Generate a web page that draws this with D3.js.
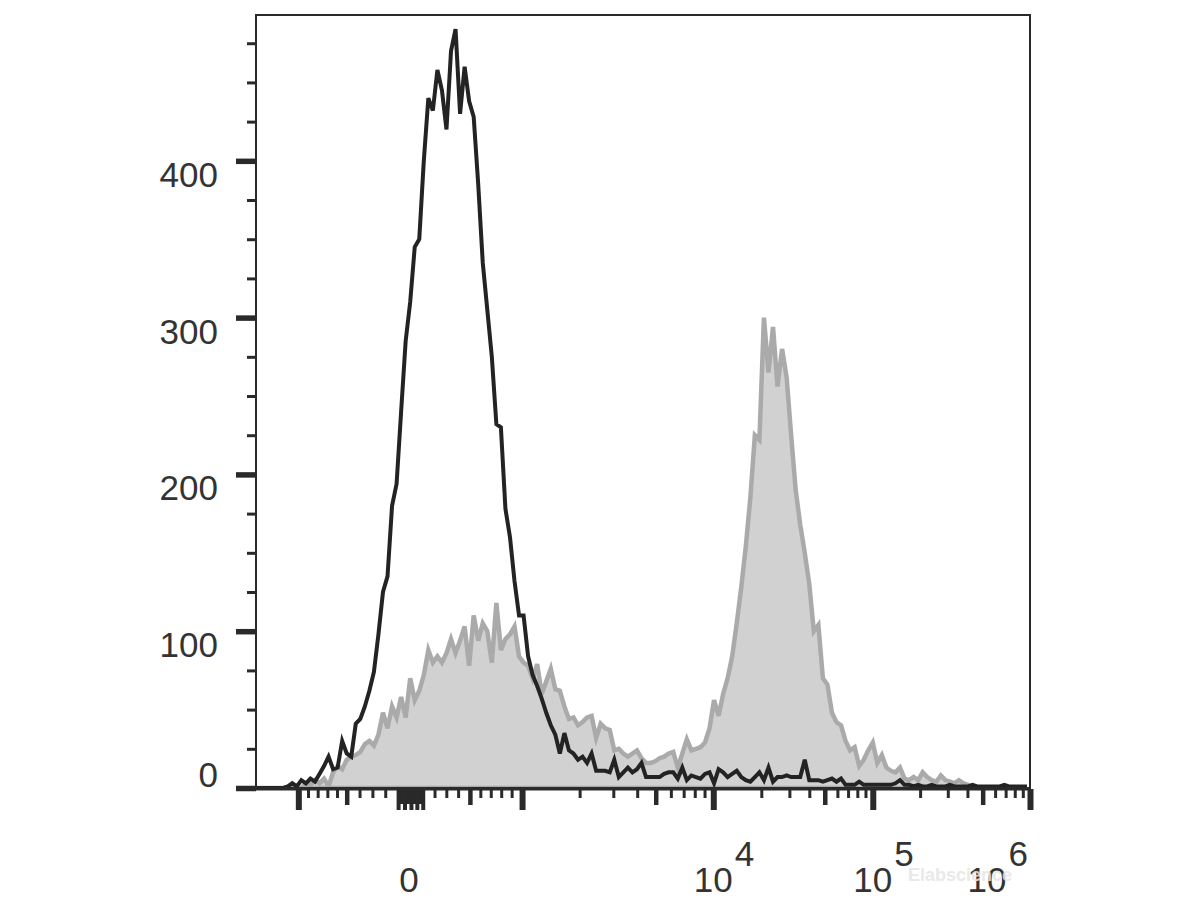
<!DOCTYPE html>
<html><head><meta charset="utf-8">
<script src="https://cdn.jsdelivr.net/npm/d3@7"></script>
<style>html,body{margin:0;background:#fff}</style>
</head><body>
<svg id="chart" width="1200" height="900"></svg>
<script>
// ---- data ----
const binWidth = 6; // channels per histogram bin (channel range 0..1024)
const blackCounts = [
0,0,0,0,0,0,0,1,3,1, 5,3,6,4,9,14,20,12,13,30,
22,20,41,44,52,62,74,98,125,135, 180,194,240,285,310,345,350,400,440,432,
458,445,420,470,484,430,460,438,428,385, 335,305,275,232,230,178,160,132,110,110,
84,72,65,57,48,40,34,22,35,24, 22,18,20,16,22,11,11,11,10,18,
7,10,13,10,12,16,7,7,7,7, 9,10,10,6,13,5,8,7,6,9,
10,3,12,10,7,9,11,7,5,4, 7,10,5,13,4,7,7,8,7,7,
7,18,5,5,5,4,5,6,4,6, 2,2,2,4,2,2,2,2,2,2,
2,3,5,2,2,1,2,1,1,2, 1,1,1,2,1,1,1,1,2,1,
1,1,1,1,1,2,1,1,1,1, 1
];
const grayCounts = [
0,0,0,0,0,0,0,0,0,0, 0,3,2,5,3,6,1,10,14,12,
18,20,21,23,28,30,27,34,48,38, 52,45,58,45,70,56,62,72,88,80,
84,80,86,95,86,94,103,78,110,94, 105,100,80,118,88,95,98,103,84,80,
78,70,79,60,68,76,63,62,52,44, 45,40,42,45,46,32,41,38,37,24,
25,22,20,22,24,19,16,16,17,19, 20,22,23,13,22,31,24,25,26,29,
38,56,46,60,70,84,105,128,154,185, 225,222,300,265,294,256,280,262,225,190,
168,150,130,100,104,70,66,48,42,40, 30,24,26,14,18,24,29,16,21,13,
11,10,13,6,5,7,5,10,7,5, 4,8,5,4,3,5,3,2,0,0,
0,0,0,0,0,0,0,0,0,0, 0
];
const yMajorTicks = [0, 100, 200, 300, 400];
const yMinorTicks = [25,50,75,125,150,175,225,250,275,325,350,375,425,450,475];
const xMajorTicks = [-1000, 1000, 1e4, 1e5, 1e6];
const xMediumTicks = [-500, 500, 5000, 5e4, 5e5];
const xMinorTicks = [-900,-800,-700,-600,-400,-300,-200,200,300,400,600,700,800,900,
  2000,3000,4000,6000,7000,8000,9000,
  2e4,3e4,4e4,6e4,7e4,8e4,9e4,
  2e5,3e5,4e5,6e5,7e5,8e5,9e5];
const xZeroTallTicks = [-100,-50,0,50,100];
const xZeroShortTicks = [-90,-80,-70,-60,-40,-30,-20,-10,10,20,30,40,60,70,80,90];
const xLabelValues = [0, 1e4, 1e5, 1e6];
const xLabelBase = ["0", "10", "10", "10"];
const xLabelExp = ["", "4", "5", "6"];

// ---- layout ----
const L = 256, R = 1030, T = 15, B = 788;
const FONT = "'Liberation Sans', Arial, sans-serif";
const svg = d3.select("#chart");

// axis calibration: decade units -> channel
const decadeUnits = [-1, -0.5, 0, 0.5, 1, 2, 3, 4];
const decadeChannels = [56, 120, 205, 283, 352, 605, 816, 1024];
const chanScale = d3.scaleLinear().domain(decadeUnits).range(decadeChannels);
function toDecade(v) {
  const a = Math.abs(v);
  return a <= 1000 ? v / 1000 : Math.sign(v) * (1 + Math.log10(a / 1000));
}
const valueToChannel = v => chanScale(toDecade(v));

const x = d3.scaleLinear().domain([0, 1024]).range([L, R]);
const y = d3.scaleLinear().domain([0, 493]).range([B, T]);

// clip
svg.append("defs").append("clipPath").attr("id", "plotclip")
  .append("rect").attr("x", L).attr("y", T).attr("width", R - L).attr("height", B - T - 1);

const plot = svg.append("g").attr("clip-path", "url(#plotclip)");

const area = d3.area().x((d, i) => x(i * binWidth)).y0(y(0)).y1(d => y(d));
const line = d3.line().x((d, i) => x(i * binWidth)).y(d => y(d));

plot.append("path").datum(grayCounts).attr("d", area)
  .attr("fill", "#d1d1d1").attr("stroke", "#aaaaaa").attr("stroke-width", 4.5)
  .attr("stroke-linejoin", "miter");
plot.append("path").datum(blackCounts).attr("d", line)
  .attr("fill", "none").attr("stroke", "#232323").attr("stroke-width", 4)
  .attr("stroke-linejoin", "miter");

// frame
svg.append("rect").attr("x", L).attr("y", T).attr("width", R - L).attr("height", B - T)
  .attr("fill", "none").attr("stroke", "#2a2a2a").attr("stroke-width", 2);
svg.append("line").attr("x1", L).attr("x2", R).attr("y1", B + 1).attr("y2", B + 1)
  .attr("stroke", "#2a2a2a").attr("stroke-width", 3);

// y axis
function yAxis(vals, size, w) {
  const g = svg.append("g").attr("transform", `translate(${L},0)`)
    .call(d3.axisLeft(y).tickValues(vals).tickSize(size).tickSizeOuter(0).tickFormat(""));
  g.select(".domain").remove();
  g.selectAll(".tick line").attr("stroke", "#2a2a2a").attr("stroke-width", w);
}
yAxis(yMinorTicks, 9, 3);
yAxis(yMajorTicks, 20, 5.5);

svg.append("g").selectAll("text").data(yMajorTicks).join("text")
  .attr("x", 218).attr("y", d => y(d) + (d === 0 ? -1 : 26))
  .attr("text-anchor", "end").attr("font-family", FONT).attr("font-size", 35)
  .attr("fill", "#333").text(d => d);

// x axis
function xAxis(vals, size, w) {
  const g = svg.append("g").attr("transform", `translate(0,${B + 1})`)
    .call(d3.axisBottom(x).tickValues(vals.map(valueToChannel)).tickSize(size).tickSizeOuter(0).tickFormat(""));
  g.select(".domain").remove();
  g.selectAll(".tick line").attr("stroke", "#2a2a2a").attr("stroke-width", w);
}
xAxis(xMinorTicks, 9, 3);
xAxis(xZeroShortTicks, 15, 3);
xAxis(xMediumTicks, 16, 4.5);
xAxis(xZeroTallTicks, 21, 4);
xAxis(xMajorTicks, 21, 6);

// x labels
xLabelValues.forEach((v, i) => {
  const px = x(valueToChannel(v));
  const t = svg.append("text").attr("y", 892)
    .attr("font-family", FONT).attr("font-size", 35).attr("fill", "#333");
  const base = t.append("tspan").text(xLabelBase[i]);
  if (xLabelExp[i]) t.append("tspan").attr("dy", -26).attr("dx", 2).text(xLabelExp[i]);
  const bw = base.node().getComputedTextLength();
  let start = px - bw / 2 - (i === 0 ? 2 : 0);
  const total = t.node().getBBox().width;
  if (start + total > 1028) start = 1028 - total;
  t.attr("x", start);
});

// watermark
svg.append("text").attr("x", 960).attr("y", 881).attr("text-anchor", "middle")
  .attr("font-family", FONT).attr("font-size", 18).attr("font-weight", "bold")
  .attr("fill", "#e6e6e6").attr("opacity", 0.85).text("Elabscience");
</script>
</body></html>
